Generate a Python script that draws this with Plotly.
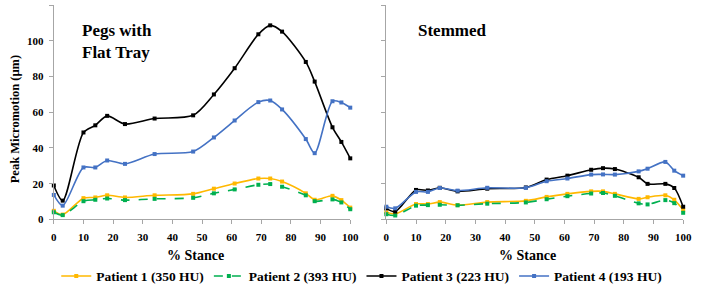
import plotly.graph_objects as go

stance = [0, 3, 10, 14, 18, 24, 34, 47, 54, 61, 69, 73, 77, 85, 88, 94, 97, 100]

names = ["Patient 1 (350 HU)", "Patient 2 (393 HU)", "Patient 3 (223 HU)", "Patient 4 (193 HU)"]
colors = ["#FFB800", "#00B050", "#000000", "#4472C4"]
dashes = ["solid", "dash", "solid", "solid"]

# Pegs with Flat Tray
pegs_p1 = [4.8, 2.7, 11.9, 12.3, 13.5, 12.3, 13.5, 14.3, 17.2, 20.1, 22.9, 22.9, 21.2, 14.6, 11.0, 13.2, 10.8, 6.6]
pegs_p2 = [4.0, 2.4, 10.2, 11.0, 11.7, 10.8, 11.5, 12.1, 14.6, 16.8, 19.4, 19.8, 18.3, 13.5, 10.2, 11.2, 9.5, 5.7]
pegs_p3 = [19.0, 10.5, 48.7, 52.7, 58.0, 53.4, 56.5, 58.3, 70.0, 84.7, 103.7, 108.7, 105.2, 88.2, 77.2, 51.6, 43.4, 34.2]
pegs_p4 = [13.7, 7.7, 29.1, 29.1, 33.0, 31.1, 36.6, 38.0, 45.9, 55.4, 65.7, 66.6, 61.6, 45.0, 37.1, 66.2, 65.5, 62.6]

# Stemmed
stem_p1 = [4.0, 3.1, 8.6, 8.6, 9.7, 8.0, 9.7, 10.4, 12.6, 14.3, 15.7, 15.7, 14.3, 11.5, 12.4, 13.5, 11.0, 5.3]
stem_p2 = [2.9, 2.2, 7.7, 8.0, 8.2, 7.9, 8.8, 9.5, 11.3, 13.0, 14.5, 14.8, 13.2, 9.0, 8.4, 10.8, 9.1, 3.7]
stem_p3 = [6.2, 4.4, 16.5, 16.2, 17.7, 15.7, 17.2, 17.9, 22.3, 24.5, 27.8, 28.7, 28.2, 23.6, 19.9, 19.9, 17.6, 7.1]
stem_p4 = [7.1, 6.2, 15.4, 15.4, 17.6, 16.1, 17.7, 17.7, 21.4, 22.9, 25.1, 25.2, 25.1, 26.9, 28.4, 32.2, 27.3, 24.5]

pegs = [pegs_p1, pegs_p2, pegs_p3, pegs_p4]
stem = [stem_p1, stem_p2, stem_p3, stem_p4]

FONT = "Liberation Serif, Times New Roman, serif"

fig = go.Figure()
for i in range(4):
    fig.add_trace(go.Scatter(
        x=stance, y=pegs[i], name="<b>" + names[i] + "</b>", mode="lines+markers",
        line=dict(color=colors[i], width=1.6, dash=dashes[i], shape="spline", smoothing=0.8),
        marker=dict(color=colors[i], size=4, symbol="square"),
        cliponaxis=False, xaxis="x", yaxis="y", legendgroup=names[i]))
for i in range(4):
    fig.add_trace(go.Scatter(
        x=stance, y=stem[i], name=names[i], mode="lines+markers", showlegend=False,
        line=dict(color=colors[i], width=1.6, dash=dashes[i], shape="spline", smoothing=0.8),
        marker=dict(color=colors[i], size=4, symbol="square"),
        cliponaxis=False, xaxis="x2", yaxis="y2", legendgroup=names[i]))

axis_common = dict(showgrid=False, zeroline=False, showline=True, linecolor="#A6A6A6",
                   linewidth=1, ticks="outside", ticklen=4, tickcolor="#A6A6A6")
tick_font = dict(family=FONT, size=11, color="#000000", weight="bold")

ydom = [68 / 292, 286.7 / 292]
fig.update_layout(
    width=702, height=292, margin=dict(l=0, r=0, t=0, b=0),
    paper_bgcolor="white", plot_bgcolor="white",
    font=dict(family=FONT, color="#000000"),
    xaxis=dict(domain=[51.7 / 702, 353.3 / 702], range=[0, 100], dtick=10, anchor="y",
               tickfont=tick_font, ticklabelstandoff=3, **axis_common),
    yaxis=dict(domain=ydom, range=[0, 120], dtick=20, anchor="x",
               tickfont=tick_font, ticklabelstandoff=3, **axis_common),
    xaxis2=dict(domain=[390 / 702, 692 / 702], range=[0, 100], dtick=10, anchor="y2",
                tickfont=tick_font, ticklabelstandoff=3, **axis_common),
    yaxis2=dict(domain=ydom, range=[0, 120], dtick=20, anchor="x2", showticklabels=False,
                **axis_common),
    showlegend=True,
    legend=dict(orientation="h", x=365 / 702, xanchor="center", y=10 / 292, yanchor="middle",
                font=dict(family=FONT, size=13.5, color="#000000"),
                itemwidth=30, tracegroupgap=0, bgcolor="rgba(0,0,0,0)"),
)

fig.add_annotation(text="<b>Peak Micromotion (µm)</b>", xref="paper", yref="paper",
                   x=13 / 702, y=(292 - 122) / 292, textangle=-90, showarrow=False,
                   font=dict(family=FONT, size=12.5, color="#000000"),
                   xanchor="center", yanchor="middle")
stance_font = dict(family=FONT, size=14, color="#000000")
fig.add_annotation(text="<b>% Stance</b>", xref="paper", yref="paper", x=196 / 702, y=(292 - 261) / 292,
                   showarrow=False, font=stance_font, xanchor="center", yanchor="middle")
fig.add_annotation(text="<b>% Stance</b>", xref="paper", yref="paper", x=534 / 702, y=(292 - 261) / 292,
                   showarrow=False, font=stance_font, xanchor="center", yanchor="middle")
title_font = dict(family=FONT, size=17, color="#000000")
fig.add_annotation(text="<b>Pegs with<br>Flat Tray</b>", xref="paper", yref="paper", x=78 / 702,
                   y=(292 - 42) / 292, showarrow=False, font=title_font, xanchor="left",
                   yanchor="middle", align="left")
fig.add_annotation(text="<b>Stemmed</b>", xref="paper", yref="paper", x=420 / 702,
                   y=(292 - 31) / 292, showarrow=False, font=title_font, xanchor="left",
                   yanchor="middle", align="left")

fig.write_html("out.html")
